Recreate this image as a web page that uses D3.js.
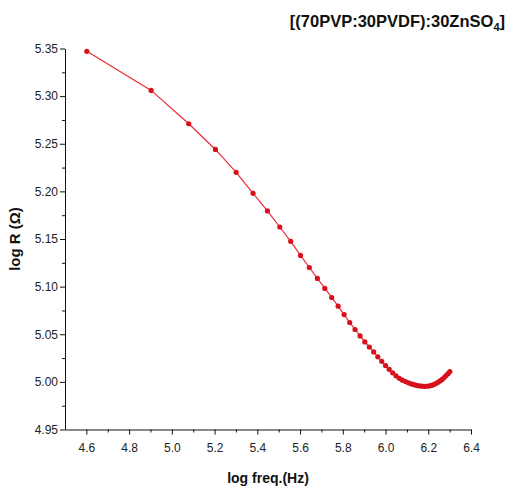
<!DOCTYPE html>
<html lang="en">
<head>
  <meta charset="UTF-8">
  <title>log R vs log freq</title>
  <script src="https://d3js.org/d3.v7.min.js"></script>
  <style>
    body { margin: 0; background: #fff; }
    .tick text { font-family: "Liberation Sans", Arial, sans-serif; font-size: 12px; fill: #222; }
    .axis path, .axis line { stroke: #111; }
    .label { font-family: "Liberation Sans", Arial, sans-serif; font-weight: bold; fill: #111; }
  </style>
</head>
<body>
  <script>
    // log of frequency (Hz)
    const logFreq = [
      4.6021, 4.9031, 5.0792, 5.2041, 5.3010, 5.3802, 5.4472, 5.5051, 5.5563, 5.6021,
      5.6435, 5.6812, 5.7160, 5.7482, 5.7782, 5.8062, 5.8325, 5.8573, 5.8808, 5.9031,
      5.9243, 5.9445, 5.9638, 5.9823, 6.0000, 6.0170, 6.0334, 6.0492, 6.0645, 6.0792,
      6.0934, 6.1072, 6.1206, 6.1335, 6.1461, 6.1584, 6.1703, 6.1818, 6.1931, 6.2041,
      6.2148, 6.2253, 6.2355, 6.2455, 6.2553, 6.2648, 6.2742, 6.2833, 6.2923, 6.3010
    ];
    // log of resistance
    const logR = [
      5.347, 5.306, 5.271, 5.244, 5.220, 5.198, 5.1795, 5.1626, 5.1476, 5.1328,
      5.1201, 5.1086, 5.0981, 5.0886, 5.0795, 5.0707, 5.0623, 5.0550, 5.0482, 5.0419,
      5.0366, 5.0314, 5.0263, 5.0216, 5.0171, 5.0132, 5.0095, 5.0063, 5.0037, 5.0018,
      5.0003, 4.9990, 4.9979, 4.9971, 4.9963, 4.9958, 4.9955, 4.9953, 4.9954, 4.9957,
      4.9963, 4.9972, 4.9982, 4.9995, 5.0010, 5.0026, 5.0045, 5.0066, 5.0086, 5.0108
    ];
    const xTicks = [4.6, 4.8, 5.0, 5.2, 5.4, 5.6, 5.8, 6.0, 6.2, 6.4];
    const xMinor = [4.7, 4.9, 5.1, 5.3, 5.5, 5.7, 5.9, 6.1, 6.3];
    const yTicks = [4.95, 5.00, 5.05, 5.10, 5.15, 5.20, 5.25, 5.30, 5.35];
    const yMinor = [4.975, 5.025, 5.075, 5.125, 5.175, 5.225, 5.275, 5.325];

    const width = 508, height = 489;
    const margin = {top: 48.5, right: 37, bottom: 59.5, left: 65};

    const x = d3.scaleLinear().domain([4.5, 6.4]).range([margin.left, width - margin.right]);
    const y = d3.scaleLinear().domain([4.95, 5.35]).range([height - margin.bottom, margin.top]);

    const svg = d3.select("body").append("svg")
      .attr("width", width)
      .attr("height", height);

    // minor ticks
    svg.append("g")
      .attr("class", "axis")
      .attr("transform", "translate(0," + y(4.95) + ")")
      .call(d3.axisBottom(x).tickValues(xMinor).tickSize(3).tickFormat(""))
      .select(".domain").remove();
    svg.append("g")
      .attr("class", "axis")
      .attr("transform", "translate(" + x(4.5) + ",0)")
      .call(d3.axisLeft(y).tickValues(yMinor).tickSize(3).tickFormat(""))
      .select(".domain").remove();

    // major axes
    svg.append("g")
      .attr("class", "axis axis--x")
      .attr("transform", "translate(0," + y(4.95) + ")")
      .call(d3.axisBottom(x).tickValues(xTicks).tickFormat(d3.format(".1f"))
        .tickSize(5).tickSizeOuter(0).tickPadding(9));

    svg.append("g")
      .attr("class", "axis axis--y")
      .attr("transform", "translate(" + x(4.5) + ",0)")
      .call(d3.axisLeft(y).tickValues(yTicks).tickFormat(d3.format(".2f"))
        .tickSize(5).tickSizeOuter(0).tickPadding(2));

    // axis titles
    svg.append("text")
      .attr("class", "label")
      .attr("x", (x(4.5) + x(6.4)) / 2)
      .attr("y", 483)
      .attr("text-anchor", "middle")
      .style("font-size", "14px")
      .text("log freq.(Hz)");

    svg.append("text")
      .attr("class", "label")
      .attr("transform", "translate(20," + (y(4.95) + y(5.35)) / 2 + ") rotate(-90)")
      .attr("text-anchor", "middle")
      .style("font-size", "15px")
      .text("log R (\u03A9)");

    // title
    const title = svg.append("text")
      .attr("class", "label")
      .attr("x", 505)
      .attr("y", 27)
      .attr("text-anchor", "end")
      .style("font-size", "16.5px");
    title.append("tspan").text("[(70PVP:30PVDF):30ZnSO");
    title.append("tspan").attr("dy", 4).style("font-size", "11px").text("4");
    title.append("tspan").attr("dy", -4).text("]");

    const pts = logFreq.map((d, i) => [d, logR[i]]);

    svg.append("path")
      .datum(pts)
      .attr("fill", "none")
      .attr("stroke", "#ee2a36")
      .attr("stroke-width", 1.2)
      .attr("d", d3.line().x(d => x(d[0])).y(d => y(d[1])));

    svg.selectAll(".dot")
      .data(pts)
      .enter().append("circle")
        .attr("class", "dot")
        .attr("cx", d => x(d[0]))
        .attr("cy", d => y(d[1]))
        .attr("r", 2.6)
        .attr("fill", "#d8101c");
  </script>
</body>
</html>
